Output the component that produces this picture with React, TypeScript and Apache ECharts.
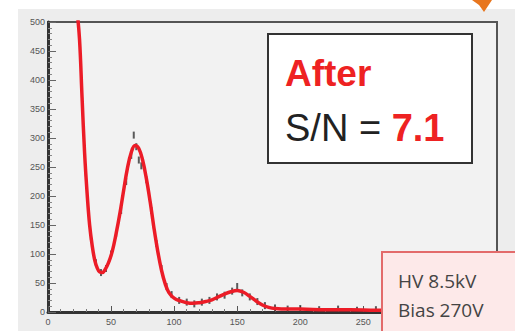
import React, { useEffect, useRef } from "react";
import * as echarts from "echarts";

const fitX = [23, 25, 27, 29, 31, 33, 35, 37, 39, 41, 43, 45, 48, 51, 54, 57, 60, 63, 66, 69, 72, 75, 78, 81, 84, 87, 90, 93, 96, 100, 105, 110, 115, 120, 125, 130, 135, 140, 145, 150, 155, 160, 165, 170, 175, 180, 190, 200, 220, 240, 260, 280, 300, 330, 350];
const fitY = [520, 470, 370, 275, 205, 150, 115, 90, 76, 69, 68, 72, 85, 105, 135, 170, 210, 248, 275, 287, 282, 262, 230, 190, 145, 105, 72, 48, 33, 24, 19, 16, 15, 16, 18, 21, 26, 31, 35, 37, 34, 27, 19, 12, 8, 6, 5, 5, 4, 4, 3, 3, 2, 2, 2];

const histX = [26, 30, 34, 38, 42, 46, 50, 54, 58, 62, 66, 68, 70, 72, 74, 78, 82, 86, 90, 94, 98, 104, 110, 116, 122, 128, 134, 140, 146, 150, 154, 160, 166, 172, 180, 190, 200, 215, 230, 245, 260];
const histY = [430, 240, 130, 85, 68, 75, 100, 135, 175, 225, 270, 305, 285, 262, 252, 228, 175, 118, 75, 44, 30, 20, 17, 14, 17, 20, 26, 29, 36, 44, 33, 26, 18, 11, 7, 5, 6, 4, 5, 3, 4];

const xTicks = [0, 50, 100, 150, 200, 250];
const titleLine = "After";
const snLabel = "S/N = ";
const snValue = "7.1";
const hvLine = "HV 8.5kV";
const biasLine = "Bias 270V";

export default function App() {
  const ref = useRef<HTMLDivElement>(null);
  useEffect(() => {
    if (!ref.current) return;
    const chart = echarts.init(ref.current, undefined, { renderer: "svg" });
    const fit = fitX.map((x, i) => [x, fitY[i]]);
    const hist = histX.map((x, i) => [x, histY[i]]);
    chart.setOption({
      animation: false,
      backgroundColor: "transparent",
      grid: {
        left: 48,
        top: 22,
        right: 18,
        bottom: 19,
        show: true,
        backgroundColor: "#f2f2f2",
        borderColor: "#555",
        borderWidth: 2,
      },
      xAxis: {
        type: "value",
        min: 0,
        max: 356,
        interval: 50,
        axisLine: { lineStyle: { color: "#333", width: 3 } },
        axisTick: { inside: true, length: 6, lineStyle: { color: "#555" } },
        minorTick: { show: true, splitNumber: 5, length: 3, lineStyle: { color: "#777" } },
        splitLine: { show: false },
        axisLabel: {
          color: "#555",
          fontSize: 9,
          margin: 5,
          showMaxLabel: false,
          formatter: (v: number) => (xTicks.includes(v) ? String(v) : ""),
        },
      },
      yAxis: {
        type: "value",
        min: 0,
        max: 500,
        interval: 50,
        axisLine: { show: true, lineStyle: { color: "#333", width: 3 } },
        axisTick: { show: true, inside: true, length: 8, lineStyle: { color: "#666" } },
        minorTick: { show: true, splitNumber: 5, length: 4, lineStyle: { color: "#888" } },
        splitLine: { show: false },
        axisLabel: { color: "#555", fontSize: 9, margin: 3 },
      },
      series: [
        {
          type: "scatter",
          data: hist,
          symbol: "rect",
          symbolSize: [2, 7],
          itemStyle: { color: "#333" },
          z: 2,
        },
        {
          type: "line",
          data: fit,
          smooth: 0.4,
          showSymbol: false,
          lineStyle: { color: "#ec1c27", width: 3.5 },
          z: 3,
        },
      ],
      graphic: [
        {
          type: "polygon",
          shape: { points: [[472, 0], [492, 0], [484, 12], [479, 5]] },
          style: { fill: "#e8761e" },
        },
        {
          type: "rect",
          shape: { x: 268, y: 34, width: 204, height: 129 },
          style: { fill: "#ffffff", stroke: "#333", lineWidth: 2 },
          z: 10,
        },
        {
          type: "text",
          x: 285,
          y: 92,
          style: {
            text: titleLine,
            fill: "#ee2222",
            font: "bold 37px 'Liberation Sans', Arial, sans-serif",
            textVerticalAlign: "bottom",
          },
          z: 11,
        },
        {
          type: "text",
          x: 285,
          y: 147,
          style: {
            text: `{a|${snLabel}}{b|${snValue}}`,
            textVerticalAlign: "bottom",
            rich: {
              a: { fill: "#222", font: "38px 'Liberation Sans', Arial, sans-serif" },
              b: { fill: "#ee2222", font: "bold 38px 'Liberation Sans', Arial, sans-serif" },
            },
          },
          z: 11,
        },
        {
          type: "rect",
          shape: { x: 382, y: 252, width: 140, height: 90 },
          style: { fill: "#fde9e9", stroke: "#e36b6b", lineWidth: 2 },
          z: 10,
        },
        {
          type: "text",
          x: 398,
          y: 266,
          style: {
            text: `${hvLine}\n${biasLine}`,
            fill: "#444",
            font: "19px 'Open Sans', sans-serif",
            lineHeight: 29,
          },
          z: 11,
        },
      ],
    });
    return () => chart.dispose();
  }, []);
  return (
    <div style={{ position: "fixed", left: 0, top: 0, width: 515, height: 331, background: "#fff", overflow: "hidden" }}>
      <div style={{ position: "absolute", left: 18, top: 9, width: 497, height: 322, background: "#ededed" }} />
      <div ref={ref} style={{ position: "absolute", left: 0, top: 0, width: 515, height: 331 }} />
    </div>
  );
}
